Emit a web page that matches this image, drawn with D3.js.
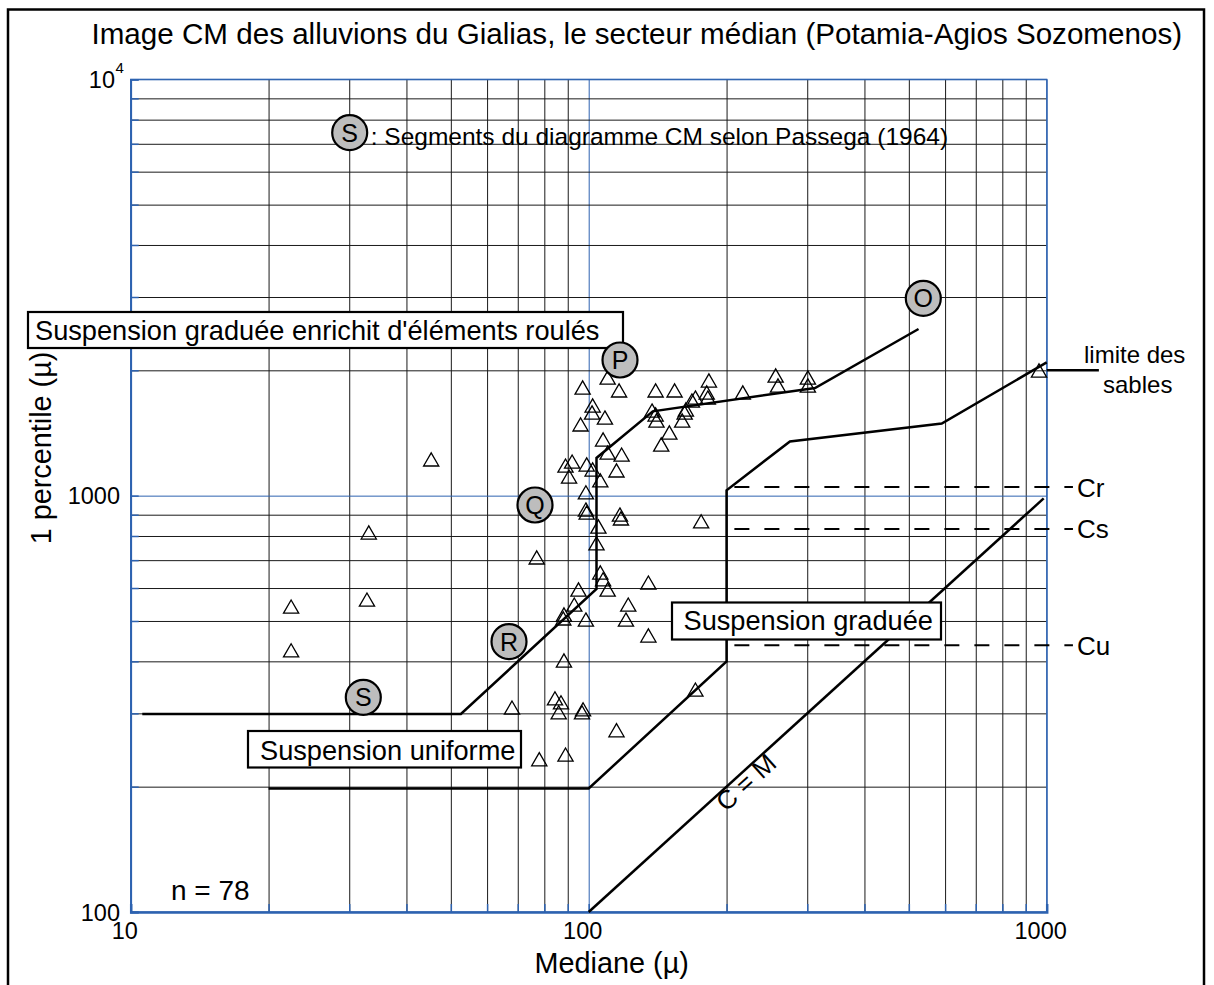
<!DOCTYPE html>
<html>
<head>
<meta charset="utf-8">
<script src="https://cdn.jsdelivr.net/npm/d3@7"></script>
<style>
  html, body { margin: 0; padding: 0; background: #fff; }
  svg { display: block; font-family: "Liberation Sans", Arial, Helvetica, sans-serif; }
</style>
</head>
<body>
<svg id="chart" width="1214" height="985"></svg>
<script>
// ---- Samples: median M (µ) and first percentile C (µ) ----
const medianM = [
  22.4, 22.4, 32.8, 33.1, 45.3, 68, 77, 78, 84.4, 87,
  86, 89, 88.3, 88.3, 88, 93, 95, 98.6, 96.7, 97.2,
  115, 106, 107.5, 110, 120.6, 122, 135, 135, 105, 104,
  98.6, 98.6, 99, 117, 117.6, 89, 92, 90.6, 99, 102,
  106, 115, 110, 118, 107.5, 96, 108.5, 102, 101.7, 97,
  110, 116.5, 140, 154, 137.5, 140, 140.6, 150, 144, 160,
  163, 168, 171, 181, 182, 183, 217, 256, 259, 301,
  301, 962, 176, 171, 162
];
const percentileC = [
  535, 420, 556, 806, 1207, 306, 702, 230, 322, 315,
  298, 236, 397, 512, 501, 541, 588, 498, 298, 303,
  270, 646, 622, 588, 498, 541, 611, 456, 833, 759,
  1006, 915, 900, 890, 871, 1167, 1193, 1098, 1174, 1142,
  1075, 1136, 1254, 1240, 1348, 1465, 1522, 1627, 1565, 1797,
  1899, 1768, 1768, 1768, 1582, 1548, 1497, 1401, 1311, 1497,
  1591, 1672, 1700, 1748, 1700, 1868, 1748, 1920, 1817, 1899,
  1817, 1974, 857, 338, 1565
];

// ---- Passega (1964) CM diagram outlines ----
const upperLimitM = [10.6, 52.6, 104, 104, 138, 312, 525];
const upperLimitC = [299, 299, 597, 1232, 1594, 1814, 2513];
const lowerLimitM = [20, 100, 200, 200, 275, 590, 1000];
const lowerLimitC = [198, 198, 400, 1030, 1350, 1490, 2090];
const equalityM = [100, 985];          // C = M
const sandLimitM = [1000, 1300];       // "limite des sables" leader
const sandLimitC = [2000, 2000];

// critical C values
const criticalNames = ["Cr", "Cs", "Cu"];
const criticalC = [1049, 832, 437];
const criticalFromM = 208;
const criticalToM = 1141;

// ---- Axis ticks ----
const xDecades = [10, 100, 1000];
const xTickLabels = ["10", "100", "1000"];
const yDecades = [100, 1000, 10000];
const yTickLabels = ["100", "1000", "10"];   // 10 with superscript 4 for the top

const xGrid = d3.range(10, 100, 10).concat(d3.range(100, 1001, 100));
const yGrid = d3.range(100, 1000, 100).concat(d3.range(1000, 10001, 1000));

// ---- Layout ----
const plotL = 130.7, plotR = 1046.7, plotT = 79.3, plotB = 912;
const blue = "#2d62b0";

const svg = d3.select("#chart");

const x = d3.scaleLog().domain([10, 1000]).range([plotL, plotR]);
const y = d3.scaleLog().domain([100, 10000]).range([plotB, plotT]);
const isDecade = v => Math.abs(Math.log10(v) - Math.round(Math.log10(v))) < 1e-9;

// outer frame
svg.append("rect")
  .attr("x", 8).attr("y", 9.5).attr("width", 1196).attr("height", 1000)
  .attr("fill", "none").attr("stroke", "#000").attr("stroke-width", 2.5);

// title
svg.append("text")
  .attr("x", 91.5).attr("y", 44)
  .attr("font-size", 29.6).attr("fill", "#000")
  .text("Image CM des alluvions du Gialias, le secteur médian (Potamia-Agios Sozomenos)");

// ---- grid ----
const gridX = svg.append("g")
  .attr("transform", `translate(0,${plotB})`)
  .call(d3.axisBottom(x).tickValues(xGrid).tickSize(-(plotB - plotT)).tickFormat(""));
gridX.select(".domain").remove();
gridX.selectAll(".tick line")
  .attr("stroke", d => isDecade(d) ? blue : "#1a1a1a")
  .attr("stroke-width", 1);

const gridY = svg.append("g")
  .attr("transform", `translate(${plotL},0)`)
  .call(d3.axisLeft(y).tickValues(yGrid).tickSize(-(plotR - plotL)).tickFormat(""));
gridY.select(".domain").remove();
gridY.selectAll(".tick line")
  .attr("stroke", d => isDecade(d) ? blue : "#1a1a1a")
  .attr("stroke-width", 1);

// plot frame
svg.append("rect")
  .attr("x", plotL).attr("y", plotT).attr("width", plotR - plotL).attr("height", plotB - plotT)
  .attr("fill", "none").attr("stroke", blue).attr("stroke-width", 1.2);

// inward blue ticks on bottom and left axes
const axX = svg.append("g")
  .attr("transform", `translate(0,${plotB})`)
  .call(d3.axisBottom(x).tickValues(xGrid).tickSize(-8).tickFormat(""));
axX.select(".domain").attr("stroke", blue).attr("stroke-width", 2.5);
axX.selectAll(".tick line").attr("stroke", blue).attr("stroke-width", 1.5);

const axY = svg.append("g")
  .attr("transform", `translate(${plotL},0)`)
  .call(d3.axisLeft(y).tickValues(yGrid).tickSize(-8).tickFormat(""));
axY.select(".domain").attr("stroke", blue).attr("stroke-width", 1.8);
axY.selectAll(".tick line").attr("stroke", blue).attr("stroke-width", 1.5);

// tick labels
svg.append("g").selectAll("text")
  .data(xDecades)
  .join("text")
  .attr("x", d => x(d) - 6)
  .attr("y", 939)
  .attr("text-anchor", "middle")
  .attr("font-size", 23.5)
  .text((d, i) => xTickLabels[i]);

svg.append("g").selectAll("text")
  .data(yDecades)
  .join("text")
  .attr("x", (d, i) => i === 2 ? 115 : 120)
  .attr("y", d => y(d) + 8.5)
  .attr("text-anchor", "end")
  .attr("font-size", 23.5)
  .text((d, i) => yTickLabels[i]);
svg.append("text")
  .attr("x", 115.5).attr("y", y(10000) - 6)
  .attr("font-size", 15)
  .text("4");

// axis titles
svg.append("text")
  .attr("x", 534.6).attr("y", 973)
  .attr("font-size", 28.8)
  .text("Mediane (µ)");
svg.append("text")
  .attr("transform", "translate(51,448) rotate(-90)")
  .attr("text-anchor", "middle")
  .attr("font-size", 28.8)
  .text("1 percentile (µ)");

// ---- outlines ----
const line = d3.line().x(d => x(d[0])).y(d => y(d[1]));
const outlines = [
  d3.zip(upperLimitM, upperLimitC),
  d3.zip(lowerLimitM, lowerLimitC),
  d3.zip(equalityM, equalityM),
  d3.zip(sandLimitM, sandLimitC)
];
svg.append("g").selectAll("path")
  .data(outlines)
  .join("path")
  .attr("d", line)
  .attr("fill", "none")
  .attr("stroke", "#000")
  .attr("stroke-width", 2.5)
  .attr("stroke-linejoin", "miter");

// critical levels (dashed)
svg.append("g").selectAll("line")
  .data(criticalC)
  .join("line")
  .attr("x1", x(criticalFromM)).attr("x2", x(criticalToM))
  .attr("y1", d => y(d)).attr("y2", d => y(d))
  .attr("stroke", "#000").attr("stroke-width", 2)
  .attr("stroke-dasharray", "15,15");
svg.append("g").selectAll("text")
  .data(criticalC)
  .join("text")
  .attr("x", x(criticalToM) + 4)
  .attr("y", d => y(d) + 9.5)
  .attr("font-size", 26)
  .text((d, i) => criticalNames[i]);

// sand limit label
svg.append("text").attr("x", 1084).attr("y", 362.5).attr("font-size", 24).text("limite des");
svg.append("text").attr("x", 1103).attr("y", 392.5).attr("font-size", 24).text("sables");

// C = M label along the equality line
svg.append("text")
  .attr("transform", "translate(752,789) rotate(-42)")
  .attr("text-anchor", "middle")
  .attr("font-size", 26)
  .text("C = M");

// ---- samples ----
const tri = d3.symbol().type(d3.symbolTriangle).size(100);
svg.append("g").selectAll("path")
  .data(d3.zip(medianM, percentileC))
  .join("path")
  .attr("transform", d => `translate(${x(d[0])},${y(d[1])})`)
  .attr("d", tri)
  .attr("fill", "none")
  .attr("stroke", "#000")
  .attr("stroke-width", 1.3);

// ---- region labels in boxes ----
const boxes = [
  { x0: 28, y0: 312, x1: 623, y1: 348, tx: 35, ty: 339.5, t: "Suspension graduée enrichit d'éléments roulés" },
  { x0: 672, y0: 602.5, x1: 941, y1: 639.5, tx: 683.5, ty: 630, t: "Suspension graduée" },
  { x0: 248, y0: 731, x1: 521, y1: 767.5, tx: 260, ty: 760, t: "Suspension uniforme" }
];
const bg = svg.append("g").selectAll("g").data(boxes).join("g");
bg.append("rect")
  .attr("x", d => d.x0).attr("y", d => d.y0)
  .attr("width", d => d.x1 - d.x0).attr("height", d => d.y1 - d.y0)
  .attr("fill", "#fff").attr("stroke", "#000").attr("stroke-width", 2.2);
bg.append("text")
  .attr("x", d => d.tx).attr("y", d => d.ty)
  .attr("font-size", 27.2)
  .text(d => d.t);

// ---- segment markers ----
const markers = [
  { cx: 349.7, cy: 132.7, t: "S" },
  { cx: 923.3, cy: 298.3, t: "O" },
  { cx: 620, cy: 360, t: "P" },
  { cx: 535, cy: 505, t: "Q" },
  { cx: 509, cy: 641.7, t: "R" },
  { cx: 363.3, cy: 697.3, t: "S" }
];
const mg = svg.append("g").selectAll("g").data(markers).join("g")
  .attr("transform", d => `translate(${d.cx},${d.cy})`);
mg.append("circle").attr("r", 17.5)
  .attr("fill", "#bdbdbd").attr("stroke", "#000").attr("stroke-width", 2.2);
mg.append("text")
  .attr("text-anchor", "middle").attr("y", 9)
  .attr("font-size", 25)
  .text(d => d.t);

// legend text
svg.append("text")
  .attr("x", 370.7).attr("y", 145)
  .attr("font-size", 24.5)
  .text(": Segments du diagramme CM selon Passega (1964)");

// sample count
svg.append("text")
  .attr("x", 171).attr("y", 900)
  .attr("font-size", 28)
  .text("n = 78");
</script>
</body>
</html>
